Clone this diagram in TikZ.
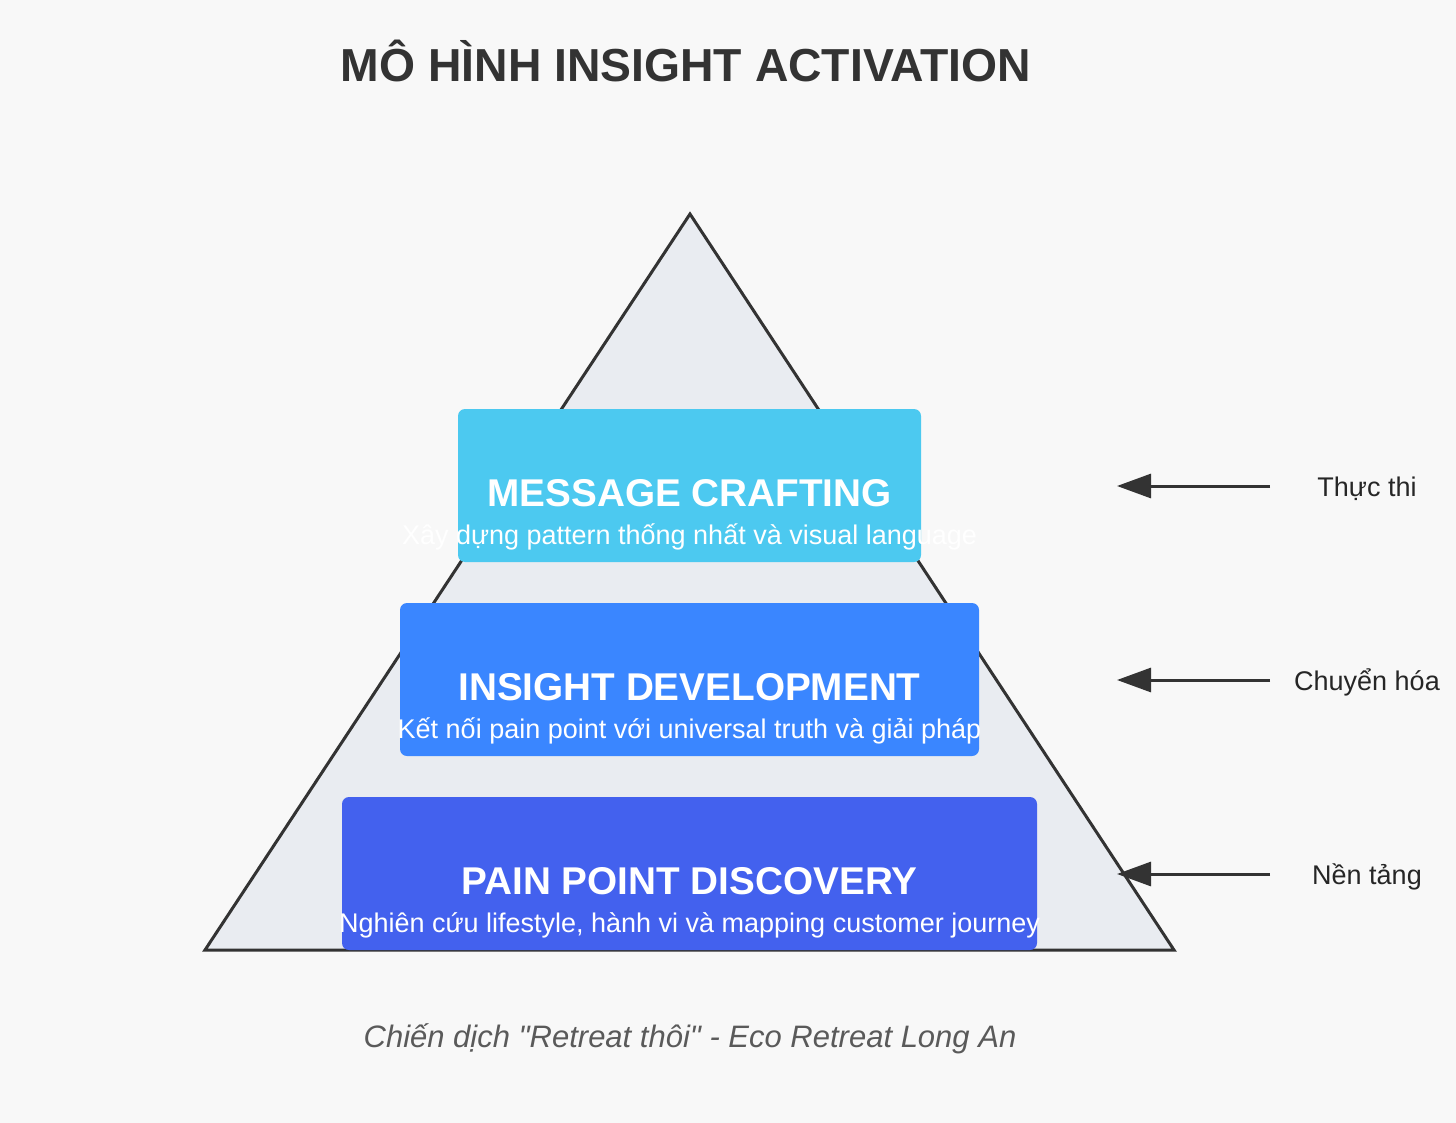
\documentclass[tikz,border=0pt]{standalone}
\usepackage{fontspec}
\setmainfont{Liberation Sans}
\newfontfamily\footfont{Liberation Sans}
\usepackage{xcolor}
\usepackage{tikz}
\usetikzlibrary{arrows.meta}

\definecolor{bgcol}{HTML}{F8F8F8}
\definecolor{tricol}{HTML}{E9ECF1}
\definecolor{inkcol}{HTML}{333333}
\definecolor{mccol}{HTML}{4CC9F0}
\definecolor{idcol}{HTML}{3A86FF}
\definecolor{pdcol}{HTML}{4361EE}
\definecolor{footcol}{HTML}{5A5A5A}

\begin{document}
\begin{tikzpicture}[x=1pt, y=-1pt,
    layerbox/.style={rectangle, rounded corners=7pt, minimum height=153pt, inner sep=0pt},
    boxtitle/.style={anchor=base, text=white, inner sep=0pt, font=\fontsize{38.7}{44}\selectfont\bfseries},
    boxsub/.style={anchor=base, text=white, inner sep=0pt, font=\fontsize{27}{31}\selectfont},
    sidelabel/.style={anchor=base, text=black!85, inner sep=0pt, font=\fontsize{27}{31}\selectfont},
    sidearrow/.style={draw=inkcol, line width=3pt, -{Triangle[length=34pt, width=24pt]}}]
    \fill[bgcol] (0,0) rectangle (1456,1123);

    % title
    \node[anchor=base, text=inkcol, inner sep=0pt, font=\fontsize{46.3}{54}\selectfont\bfseries]
        (title) at (686,82) {MÔ HÌNH INSIGHT ACTIVATION};

    % pyramid
    \coordinate (T) at (690,214);
    \coordinate (L) at (205,950);
    \coordinate (R) at (1174,950);
    \draw[fill=tricol, draw=inkcol, line width=3pt, line join=miter] (T) -- (R) -- (L) -- cycle;

    % layers
    \node[layerbox, fill=mccol, minimum width=463pt] (mc) at (689.5,485.5) {};
    \node[layerbox, fill=idcol, minimum width=579pt] (id) at (689.5,679.5) {};
    \node[layerbox, fill=pdcol, minimum width=695pt] (pd) at (689.5,873.5) {};

    \node[boxtitle] (mct) at (689.5,506) {MESSAGE CRAFTING};
    \node[boxsub] (mcs) at (689.5,544) {Xây dựng pattern thống nhất và visual language};
    \node[boxtitle] (idt) at (689.5,700) {INSIGHT DEVELOPMENT};
    \node[boxsub] (ids) at (689.5,738) {Kết nối pain point với universal truth và giải pháp};
    \node[boxtitle] (pdt) at (689.5,894) {PAIN POINT DISCOVERY};
    \node[boxsub] (pds) at (689.5,932) {Nghiên cứu lifestyle, hành vi và mapping customer journey};

    % side arrows
    \coordinate (a1s) at (1270,486);
    \coordinate (a1e) at (1117,486);
    \coordinate (a2s) at (1270,680);
    \coordinate (a2e) at (1117,680);
    \coordinate (a3s) at (1270,874);
    \coordinate (a3e) at (1117,874);
    \draw[sidearrow] (a1s) -- (a1e);
    \draw[sidearrow] (a2s) -- (a2e);
    \draw[sidearrow] (a3s) -- (a3e);
    \node[sidelabel] (l1) at (1367,496) {Thực thi};
    \node[sidelabel] (l2) at (1367,690) {Chuyển hóa};
    \node[sidelabel] (l3) at (1367,884) {Nền tảng};

    % footer
    \node[anchor=base, text=footcol, inner sep=0pt, font=\footfont\fontsize{31}{36}\selectfont\itshape]
        (foot) at (690,1047) {Chiến dịch "Retreat thôi" - Eco Retreat Long An};
\end{tikzpicture}
\end{document}
